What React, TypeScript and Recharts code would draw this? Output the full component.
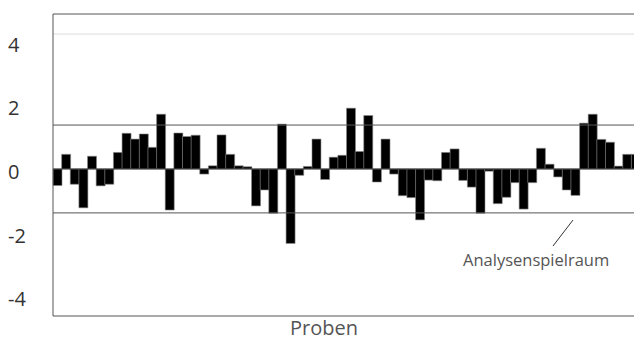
import { BarChart, Bar, XAxis, YAxis, ReferenceLine } from 'recharts';

const samples = [
    -0.52, 0.46, -0.48, -1.22, 0.40, -0.53, -0.48, 0.52, 1.12, 0.94,
    1.10, 0.68, 1.72, -1.29, 1.13, 1.02, 1.06, -0.16, 0.10, 1.07,
    0.46, 0.10, 0.07, -1.16, -0.66, -1.39, 1.41, -2.34, -0.20, 0.08,
    0.94, -0.33, 0.37, 0.43, 1.91, 0.55, 1.68, -0.41, 0.94, -0.16,
    -0.84, -0.90, -1.60, -0.35, -0.37, 0.52, 0.63, -0.36, -0.57, -1.39,
    -0.07, -1.09, -0.89, -0.43, -1.26, -0.43, 0.65, 0.15, -0.25, -0.66,
    -0.83, 1.44, 1.72, 0.93, 0.84, 0.09, 0.46, 0.46,
];
const yTicks = [4, 2, 0, -2, -4];
const limitUpper = 1.38;
const limitLower = -1.38;
const guideLine = 4.24;
const yDomain = [-4.62, 4.87];

const data = samples.map((v, i) => ({ probe: `P${i + 1}`, value: v }));

const font = '"Open Sans", sans-serif';

function YTick(props: any) {
    return (
        <text x={8} y={props.y + 10} fill="#333" fontSize={20} fontFamily={font}>
            {props.payload.value}
        </text>
    );
}

export default function App() {
    return (
        <div style={{ position: 'absolute', left: 0, top: 0, width: 634, height: 344, overflow: 'hidden', background: '#fff' }}>
            <BarChart
                width={660}
                height={344}
                data={data}
                barCategoryGap={0}
                margin={{ top: 14, right: 20, bottom: 28, left: 0 }}
            >
                <XAxis dataKey="probe" hide />
                <YAxis
                    width={53}
                    domain={yDomain}
                    ticks={yTicks}
                    allowDataOverflow
                    axisLine={{ stroke: '#555' }}
                    tickLine={false}
                    tick={<YTick />}
                />
                <ReferenceLine y={yDomain[1]} stroke="#555" />
                <ReferenceLine y={yDomain[0]} stroke="#555" />
                <ReferenceLine y={guideLine} stroke="#ddd" />
                <ReferenceLine y={limitUpper} stroke="#555" />
                <ReferenceLine y={limitLower} stroke="#555" />
                <Bar dataKey="value" fill="#000" stroke="#888" strokeWidth={0.6} isAnimationActive={false} />
                <ReferenceLine y={0} stroke="#333" />
            </BarChart>
            <svg width={634} height={344} style={{ position: 'absolute', left: 0, top: 0, pointerEvents: 'none' }}>
                <line x1={573} y1={220} x2={553} y2={246} stroke="#333" strokeWidth={1} />
            </svg>
            <div style={{ position: 'absolute', left: 0, width: 648, top: 314, textAlign: 'center', fontFamily: font, fontSize: 20, color: '#555' }}>
                Proben
            </div>
            <div style={{ position: 'absolute', left: 463, top: 248, fontFamily: font, fontSize: 16.5, color: '#555', whiteSpace: 'nowrap' }}>
                Analysenspielraum
            </div>
        </div>
    );
}
